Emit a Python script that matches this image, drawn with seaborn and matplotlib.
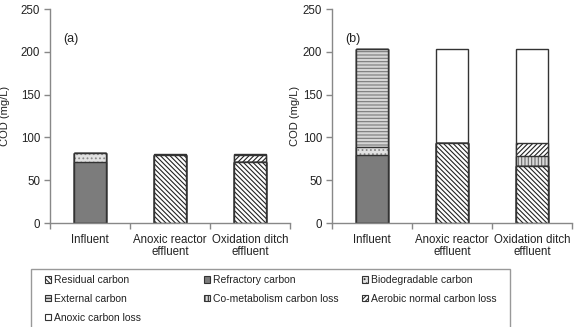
import numpy as np
import pandas as pd
import matplotlib
matplotlib.use("Agg")
import matplotlib.pyplot as plt
import seaborn as sns
from matplotlib.patches import Patch, Rectangle

# ---------------- data ----------------
categories = ["Influent", "Anoxic reactor\neffluent", "Oxidation ditch\neffluent"]
components = ["Residual carbon", "Refractory carbon", "Biodegradable carbon",
              "External carbon", "Co-metabolism carbon loss",
              "Aerobic normal carbon loss", "Anoxic carbon loss"]

# panel (a)
a_residual = [0, 79, 71]
a_refractory = [71, 0, 0]
a_biodegradable = [11, 0, 0]
a_external = [0, 0, 0]
a_cometabolism = [0, 0, 0]
a_aerobic = [0, 0, 8]
a_anoxic = [0, 2, 2]

# panel (b)
b_residual = [0, 93, 67]
b_refractory = [79, 0, 0]
b_biodegradable = [10, 0, 0]
b_external = [114, 0, 0]
b_cometabolism = [0, 0, 11]
b_aerobic = [0, 0, 15]
b_anoxic = [0, 110, 110]

yticks = [0, 50, 100, 150, 200, 250]
panel_labels = ["(a)", "(b)"]

# ---------------- style ----------------
sns.set_theme(style="white")
plt.rcParams["font.family"] = ["Liberation Sans", "DejaVu Sans"]
plt.rcParams["hatch.linewidth"] = 0.8

EDGE = "#333333"
styles = {
    "Residual carbon": dict(fc="white", hatch="\\" * 7, hc="#222222"),
    "Refractory carbon": dict(fc="#7c7c7c", hatch=None, hc="#7c7c7c"),
    "Biodegradable carbon": dict(fc="#e2e2e2", hatch="....", hc="#8a8a8a"),
    "External carbon": dict(fc="#d6d6d6", hatch="-" * 5, hc="#7a7a7a"),
    "Co-metabolism carbon loss": dict(fc="#dadada", hatch="|" * 5, hc="#6a6a6a"),
    "Aerobic normal carbon loss": dict(fc="white", hatch="/" * 7, hc="#222222"),
    "Anoxic carbon loss": dict(fc="white", hatch=None, hc="white"),
}

W, H = 578, 327
fig = plt.figure(figsize=(W / 100, H / 100), dpi=100)

panels = [
    [a_residual, a_refractory, a_biodegradable, a_external, a_cometabolism, a_aerobic, a_anoxic],
    [b_residual, b_refractory, b_biodegradable, b_external, b_cometabolism, b_aerobic, b_anoxic],
]
ax_lefts = [50, 332]
ylabel_x = [-0.166, -0.133]

for p, layers in enumerate(panels):
    left = ax_lefts[p]
    ax = fig.add_axes([left / W, 1 - 223 / H, 240 / W, (223 - 9) / H])
    cum = np.cumsum(np.array(layers, dtype=float), axis=0)
    # draw from the top layer down so lower segments overlay the higher totals
    for i in range(len(components) - 1, -1, -1):
        st = styles[components[i]]
        df = pd.DataFrame({"cat": categories, "val": cum[i]})
        # filled, hatched body (edgecolor sets hatch colour)
        sns.barplot(data=df, x="cat", y="val", ax=ax, color=st["fc"], saturation=1,
                    width=0.4, edgecolor=st["hc"], linewidth=0, hatch=st["hatch"],
                    errorbar=None, order=categories)
        # outline
        sns.barplot(data=df, x="cat", y="val", ax=ax, color=EDGE, saturation=1,
                    width=0.4, fill=False, linewidth=1.0,
                    errorbar=None, order=categories)
    ax.set_xlim(-0.5, 2.5)
    ax.set_ylim(0, 250)
    ax.set_yticks(yticks)
    ax.set_xlabel("")
    ax.set_ylabel("COD (mg/L)", fontsize=8, color="#222222")
    ax.yaxis.set_label_coords(ylabel_x[p], 0.5)
    for s in ["top", "right"]:
        ax.spines[s].set_visible(False)
    for s in ["left", "bottom"]:
        ax.spines[s].set_color("#888888")
        ax.spines[s].set_linewidth(1.0)
    ax.tick_params(axis="y", which="major", left=True, length=4, width=1,
                   color="#888888", labelsize=8.3, labelcolor="#222222", pad=3)
    ax.tick_params(axis="x", which="major", bottom=False, labelsize=8.3,
                   labelcolor="#222222", pad=2)
    for lbl in ax.get_xticklabels():
        lbl.set_linespacing(0.95)
    ax.set_xticks([-0.5, 0.5, 1.5, 2.5], minor=True)
    ax.tick_params(axis="x", which="minor", bottom=True, length=4, width=1, color="#888888")
    ax.text(0.054, 0.86, panel_labels[p], transform=ax.transAxes, fontsize=9,
            color="#222222", ha="left", va="center")
    ax.grid(False)

# ---------------- legend ----------------
handles = [Patch(facecolor=styles[c]["fc"], hatch=styles[c]["hatch"], edgecolor=EDGE,
                 linewidth=0.8, label=c) for c in components]
cols = [[0, 3, 6], [1, 4], [2, 5]]
col_x = [45, 204, 362]
for idx, xs in zip(cols, col_x):
    fig.legend(handles=[handles[i] for i in idx], loc="upper left",
               bbox_to_anchor=(xs / W, 1 - 275 / H), frameon=False, fontsize=7.5,
               handlelength=0.6, handleheight=0.6, handletextpad=0.3,
               labelspacing=0.85, borderpad=0, borderaxespad=0,
               labelcolor="#222222")
fig.patches.append(Rectangle((31 / W, -0.05), (510 - 31) / W, (1 - 269 / H) + 0.05,
                             transform=fig.transFigure, fill=False,
                             edgecolor="#999999", linewidth=1.0))

fig.savefig("out.png", dpi=100)
